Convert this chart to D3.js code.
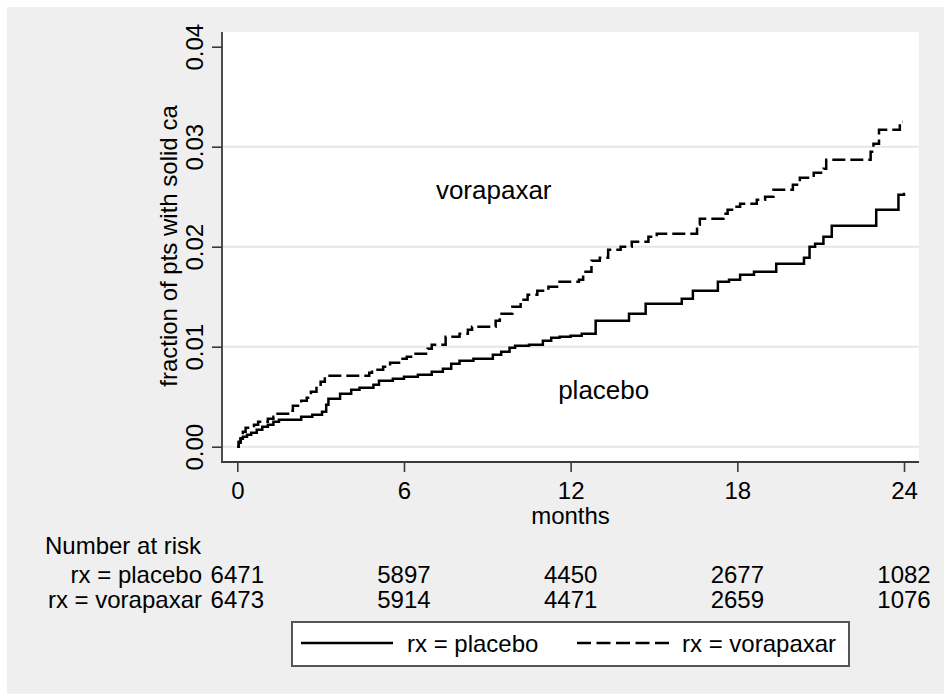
<!DOCTYPE html>
<html><head><meta charset="utf-8">
<script src="https://cdn.jsdelivr.net/npm/d3@7"></script>
<style>body{margin:0;background:#fff}svg{display:block}text{font-family:"Liberation Sans",Arial,sans-serif;fill:#000}</style>
</head><body><svg id="c" width="944" height="694"></svg>
<script>
// ---- data ----
const placeboTimes = [0,0.05,0.12,0.2,0.35,0.5,0.7,0.9,1.1,1.3,1.5,2.3,2.7,3.05,3.2,3.28,3.7,4.1,4.4,4.9,5.1,5.6,6.0,6.5,7.0,7.4,7.7,8.0,8.5,9.2,9.5,9.8,10.0,10.5,11.0,11.3,11.6,12.0,12.4,12.9,14.1,14.7,16.0,16.4,17.3,17.7,18.1,18.6,19.4,20.4,20.6,20.8,21.1,21.4,23.0,23.8,24.0];
const placeboValues = [0,0.0004,0.0008,0.001,0.0012,0.0014,0.0017,0.002,0.0022,0.0025,0.0027,0.003,0.0032,0.0035,0.0042,0.0048,0.0053,0.0057,0.0059,0.0062,0.0066,0.0068,0.007,0.0072,0.0075,0.0078,0.0083,0.0086,0.0088,0.0092,0.0095,0.0099,0.0101,0.0102,0.0106,0.0109,0.011,0.0111,0.0113,0.0126,0.0133,0.0143,0.0148,0.0156,0.0165,0.0167,0.0172,0.0175,0.0183,0.0189,0.02,0.0203,0.021,0.0221,0.0237,0.0252,0.0254];
const vorapaxarTimes = [0,0.05,0.12,0.2,0.3,0.6,0.75,1.1,1.3,1.45,1.9,2.0,2.3,2.5,2.65,2.85,3.0,3.15,4.75,4.85,5.25,5.5,5.9,6.1,6.35,6.85,7.0,7.5,8.0,8.3,8.45,9.3,9.45,9.9,10.2,10.45,10.8,11.2,11.6,12.3,12.45,12.75,13.05,13.35,13.8,14.2,14.8,15.1,16.55,16.65,17.5,17.65,17.9,18.1,18.7,19.0,19.3,20.0,20.25,20.75,21.1,21.2,22.8,22.9,23.1,23.85,23.95];
const vorapaxarValues = [0,0.0005,0.001,0.0015,0.0019,0.0022,0.0025,0.0028,0.003,0.0033,0.0036,0.0041,0.0046,0.0049,0.0055,0.006,0.0065,0.0071,0.0074,0.0077,0.008,0.0084,0.0088,0.009,0.0093,0.0098,0.0102,0.011,0.0113,0.0117,0.012,0.0126,0.0133,0.014,0.0147,0.0152,0.0156,0.016,0.0165,0.0167,0.0175,0.0186,0.0189,0.0197,0.02,0.0205,0.021,0.0213,0.0222,0.0228,0.0233,0.0237,0.024,0.0243,0.0247,0.025,0.0257,0.0262,0.0269,0.0274,0.0278,0.0287,0.0295,0.0303,0.0317,0.0325,0.0325];
const xTicks = [0,6,12,18,24];
const yTicks = [0,0.01,0.02,0.03,0.04];
const yTickLabels = ["0.00","0.01","0.02","0.03","0.04"];
const riskTimes = [0,6,12,18,24];
const placeboRisk = [6471,5897,4450,2677,1082];
const vorapaxarRisk = [6473,5914,4471,2659,1076];
const seriesNames = ["rx = placebo","rx = vorapaxar"];

// ---- layout ----
const svg = d3.select("#c");
const P = {l:222, r:919, t:32, b:462};
const x = d3.scaleLinear().domain([0,24]).range([237.3,904]);
const y = d3.scaleLinear().domain([0,0.04]).range([446.7,46.7]);
const AX = "#3a3a3a";

svg.append("rect").attr("x",7).attr("y",7).attr("width",937).attr("height",687).attr("fill","#efefef");
svg.append("rect").attr("x",P.l).attr("y",P.t).attr("width",P.r-P.l).attr("height",P.b-P.t).attr("fill","#fff");

// gridlines
svg.append("g").selectAll("line").data(yTicks.slice(0,4)).join("line")
  .attr("x1",P.l).attr("x2",P.r).attr("y1",d=>y(d)).attr("y2",d=>y(d))
  .attr("stroke","#e6e6e6").attr("stroke-width",2);

// curves
const line = d3.line().x(d=>x(d[0])).y(d=>y(d[1])).curve(d3.curveStepAfter);
const plac = placeboTimes.map((t,i)=>[t,placeboValues[i]]);
const vora = vorapaxarTimes.map((t,i)=>[t,vorapaxarValues[i]]);
svg.append("path").datum(plac).attr("d",line).attr("fill","none").attr("stroke","#000").attr("stroke-width",2.5);
svg.append("path").datum(vora).attr("d",line).attr("fill","none").attr("stroke","#000").attr("stroke-width",2.5).attr("stroke-dasharray","13,5");

// axes
const yAxis = svg.append("g").attr("transform",`translate(${P.l},0)`)
  .call(d3.axisLeft(y).tickValues(yTicks).tickFormat((d,i)=>yTickLabels[i]).tickSize(10).tickSizeOuter(0));
yAxis.select(".domain").remove();
yAxis.selectAll(".tick line").attr("stroke",AX).attr("stroke-width",1.6);
yAxis.selectAll(".tick text").attr("transform","rotate(-90)").attr("x",0).attr("y",-19).attr("dy",0)
  .attr("text-anchor","middle").style("font-size","24px").attr("fill","#000");
const xAxis = svg.append("g").attr("transform",`translate(0,${P.b})`)
  .call(d3.axisBottom(x).tickValues(xTicks).tickSize(10).tickSizeOuter(0));
xAxis.select(".domain").remove();
xAxis.selectAll(".tick line").attr("stroke",AX).attr("stroke-width",1.6);
xAxis.selectAll(".tick text").attr("y",37).attr("dy",0).style("font-size","24px").attr("fill","#000");
svg.append("line").attr("x1",P.l).attr("x2",P.l).attr("y1",P.t).attr("y2",P.b+1).attr("stroke",AX).attr("stroke-width",1.8);
svg.append("line").attr("x1",P.l-1).attr("x2",P.r).attr("y1",P.b).attr("y2",P.b).attr("stroke",AX).attr("stroke-width",1.8);

// titles
svg.append("text").attr("transform","translate(177,246) rotate(-90)").attr("text-anchor","middle")
  .style("font-size","24px").text("fraction of pts with solid ca");
svg.append("text").attr("x",(P.l+P.r)/2).attr("y",524).attr("text-anchor","middle").style("font-size","24px").text("months");

// in-plot labels
svg.append("text").attr("x",x(7.15)).attr("y",y(0.0248)).style("font-size","26px").text("vorapaxar");
svg.append("text").attr("x",x(11.55)).attr("y",y(0.0048)).style("font-size","26px").text("placebo");

// risk table
svg.append("text").attr("x",45).attr("y",554).style("font-size","24px").text("Number at risk");
const rows = [[seriesNames[0],placeboRisk,583],[seriesNames[1],vorapaxarRisk,608]];
rows.forEach(([name,vals,yy])=>{
  svg.append("text").attr("x",202).attr("y",yy).attr("text-anchor","end").style("font-size","24px").text(name);
  svg.append("g").selectAll("text").data(vals).join("text")
    .attr("x",(d,i)=>x(riskTimes[i])).attr("y",yy).attr("text-anchor","middle").style("font-size","24px").text(d=>d);
});

// legend
svg.append("rect").attr("x",292).attr("y",622).attr("width",557).attr("height",44).attr("fill","#fff").attr("stroke","#555").attr("stroke-width",2);
const lg = [{x1:301,x2:393,tx:407,dash:null,name:seriesNames[0]},{x1:577,x2:669,tx:682,dash:"14,5.5",name:seriesNames[1]}];
lg.forEach(d=>{
  svg.append("line").attr("x1",d.x1).attr("x2",d.x2).attr("y1",643).attr("y2",643).attr("stroke","#000").attr("stroke-width",2.5).attr("stroke-dasharray",d.dash);
  svg.append("text").attr("x",d.tx).attr("y",652).style("font-size","24px").text(d.name);
});
</script></body></html>
